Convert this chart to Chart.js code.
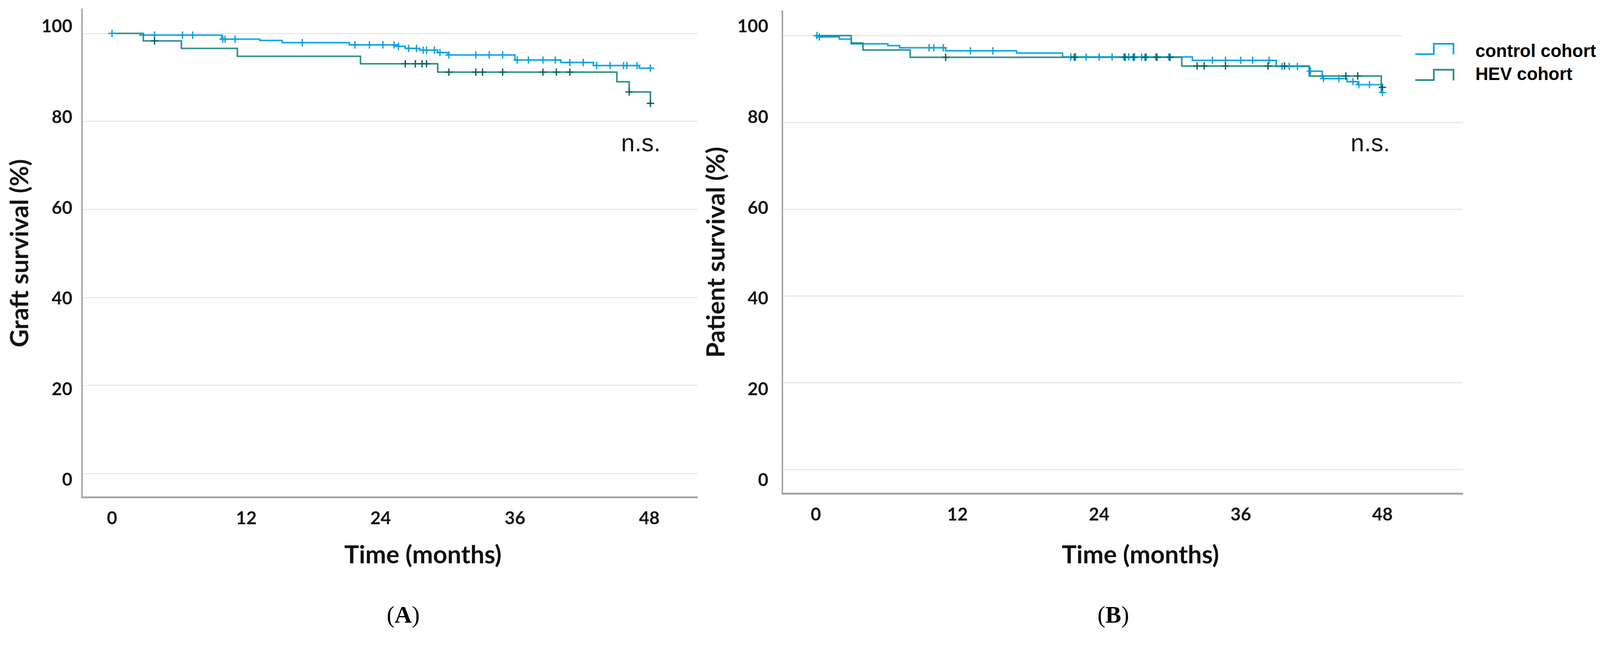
<!DOCTYPE html>
<html>
<head>
<meta charset="utf-8">
<script src="https://cdn.jsdelivr.net/npm/chart.js@4.4.1/dist/chart.umd.min.js"></script>
<style>
  html, body { margin: 0; padding: 0; background: #ffffff; overflow: hidden; }
  #stage { position: absolute; left: 0; top: 0; width: 4313px; height: 1706px; transform-origin: 0 0; background: #ffffff; }
  canvas { position: absolute; top: 0; }
  #chartA { left: 0; width: 1900px; height: 1706px; }
  #chartB { left: 1880px; width: 2100px; height: 1706px; }
  .xtitle { position: absolute; top: 1460px; font: bold 67px Lato, sans-serif; line-height: 1; white-space: nowrap; transform: translateX(-50%); color: #111; }
  .panel { position: absolute; top: 1627px; font: 64px "Liberation Serif", serif; line-height: 1; white-space: nowrap; transform: translateX(-50%); color: #000; }
  .legend { position: absolute; left: 3779px; top: 78px; width: 534px; height: 150px; background: #ffffff; }
  .legend .item { position: absolute; left: 0; width: 534px; height: 48px; }
  .legend svg { position: absolute; left: 34px; }
  .legend span { position: absolute; font: bold 48px "Liberation Sans", Arial, sans-serif; line-height: 1; white-space: nowrap; color: #000; }
</style>
</head>
<body>
<div id="stage">
  <canvas id="chartA" width="1900" height="1706"></canvas>
  <canvas id="chartB" width="2100" height="1706"></canvas>

  <div class="xtitle" style="left:1140px">Time (months)</div>
  <div class="xtitle" style="left:3074px">Time (months)</div>
  <div class="panel" style="left:1087px">(<b>A</b>)</div>
  <div class="panel" style="left:3001px">(<b>B</b>)</div>

  <div class="legend">
    <div class="item" style="top:36px">
      <svg width="110" height="38" style="top:0px"><polyline points="2,32 52,32 52,4 105,4 105,33" fill="none" stroke="#08a4e8" stroke-width="4.5"/></svg>
      <span style="left:198px;top:0px">control cohort</span>
    </div>
    <div class="item" style="top:98px">
      <svg width="110" height="38" style="top:8px"><polyline points="2,32 52,32 52,4 105,4 105,33" fill="none" stroke="#238c83" stroke-width="4.5"/></svg>
      <span style="left:198px;top:0px">HEV cohort</span>
    </div>
  </div>
</div>

<script>
// ---------- data ----------
const monthTicks = [0, 12, 24, 36, 48];
const percentTicks = [0, 20, 40, 60, 80, 100];
const cohortNames = ['control cohort', 'HEV cohort'];

// (A) Graft survival
const graftControlMonths = [0, 2.5, 9.8, 13.2, 15.2, 21.2, 25.5, 26.2, 27.5, 29.1, 30.0, 36.0, 40.1, 43.0, 47.1, 48.1];
const graftControlPct    = [100, 99.6, 98.7, 98.4, 97.9, 97.4, 97.05, 96.6, 96.2, 95.65, 95.1, 93.95, 93.4, 92.7, 92.1, 92.1];
const graftControlCensorMonths = [0, 3.8, 6.3, 7.2, 9.9, 10.1, 11.0, 17.0, 21.7, 23.0, 24.2, 25.2, 25.6, 26.5, 27.2, 27.8, 28.1, 28.8, 29.3, 30.1, 32.5, 33.7, 34.9, 36.2, 37.2, 38.5, 39.6, 40.9, 42.1, 43.3, 44.5, 45.7, 46.0, 46.9, 48.1];
const graftHevMonths = [0, 2.8, 6.2, 11.2, 22.2, 29.1, 45.1, 46.2, 48.1];
const graftHevPct    = [100, 98.3, 96.6, 94.8, 93.1, 91.2, 89.0, 86.7, 84.1];
const graftHevCensorMonths = [3.8, 26.2, 27.1, 27.7, 28.1, 30.1, 32.5, 33.1, 34.9, 38.5, 39.7, 40.9, 46.2, 48.1];

// (B) Patient survival
const patientControlMonths = [0, 0.3, 2.0, 3.0, 6.1, 7.1, 11.0, 17.0, 20.9, 31.9, 39.0, 41.8, 42.9, 45.0, 45.9, 47.9, 48.0];
const patientControlPct    = [100, 99.7, 99.2, 98.1, 97.7, 97.2, 96.5, 96.0, 95.1, 94.3, 92.9, 91.8, 90.1, 89.4, 88.7, 86.9, 86.9];
const patientControlCensorMonths = [0.1, 0.3, 9.6, 10.0, 10.8, 13.1, 15.0, 21.6, 22.0, 22.9, 24.0, 25.1, 26.1, 26.5, 27.0, 27.6, 28.0, 28.8, 29.9, 33.6, 34.7, 36.0, 37.0, 38.4, 39.5, 40.1, 40.8, 41.9, 43.0, 44.3, 45.5, 46.0, 46.9, 48.0];
const patientHevMonths = [0, 3.0, 4.0, 8.0, 31.0, 41.8, 47.9, 48.0];
const patientHevPct    = [100, 98.3, 96.7, 95.0, 93.0, 90.7, 88.1, 88.1];
const patientHevCensorMonths = [11.0, 21.9, 26.2, 26.9, 27.9, 28.9, 30.0, 32.3, 32.9, 34.7, 38.3, 39.7, 44.9, 45.9, 48.0];

// ---------- page scaling: fit the 4313x1706 design to the window ----------
(function fitStage() {
  const s = Math.min(window.innerWidth / 4313, window.innerHeight / 1706);
  document.getElementById('stage').style.transform = 'scale(' + s + ')';
})();

// ---------- helpers ----------
const BLUE = '#08a4e8', BLUE_MARK = '#0a9ee2', TEAL = '#238c83', TEAL_MARK = '#0c5f58';

function stepPoints(months, pct) {
  return months.map((m, i) => ({ x: m, y: pct[i] }));
}
// a censored case sits on the curve: take the curve's level at that month
function censorPoints(censorMonths, months, pct) {
  return censorMonths.map(t => {
    let v = pct[0];
    for (let i = 0; i < months.length; i++) { if (months[i] <= t + 1e-9) v = pct[i]; }
    return { x: t, y: v };
  });
}
function fixedTicks(list) {
  return scale => { scale.ticks = list.map(v => ({ value: v })); };
}

const nsPlugin = {
  id: 'nsLabel',
  afterDatasetsDraw(chart, args, opts) {
    const { ctx, scales } = chart;
    ctx.save();
    ctx.font = '66px "Liberation Sans", Arial, sans-serif';
    ctx.fillStyle = '#111';
    ctx.textAlign = 'left';
    ctx.textBaseline = 'alphabetic';
    ctx.fillText(opts.text, scales.x.getPixelForValue(opts.x), scales.y.getPixelForValue(opts.y));
    ctx.restore();
  }
};

const tickFont = { family: 'Lato', weight: 'bold', size: 48 };
const titleFont = { family: 'Lato', weight: 'bold', size: 67 };

function buildChart(id, d, p) {
  return new Chart(document.getElementById(id), {
    type: 'line',
    data: {
      datasets: [
        { label: cohortNames[0] + ' (censored)', data: censorPoints(d.cCens, d.cM, d.cP), showLine: false,
          pointStyle: 'cross', pointRadius: 10, pointBorderWidth: 3.5, pointBorderColor: BLUE_MARK, borderColor: BLUE_MARK, order: 1 },
        { label: cohortNames[1] + ' (censored)', data: censorPoints(d.hCens, d.hM, d.hP), showLine: false,
          pointStyle: 'cross', pointRadius: 10, pointBorderWidth: 3.5, pointBorderColor: TEAL_MARK, borderColor: TEAL_MARK, order: 0 },
        { label: cohortNames[1], data: stepPoints(d.hM, d.hP), stepped: true, borderColor: TEAL, borderWidth: 4,
          pointRadius: 0, fill: false, order: 2 },
        { label: cohortNames[0], data: stepPoints(d.cM, d.cP), stepped: true, borderColor: BLUE, borderWidth: 4,
          pointRadius: 0, fill: false, order: 3 }
      ]
    },
    options: {
      responsive: false,
      animation: false,
      devicePixelRatio: 1,
      layout: { padding: p.padding },
      plugins: {
        legend: { display: false },
        tooltip: { enabled: false },
        nsLabel: { text: 'n.s.', x: p.nsX, y: p.nsY }
      },
      scales: {
        x: {
          type: 'linear', min: p.xMin, max: p.xMax,
          afterBuildTicks: fixedTicks(monthTicks),
          afterFit: s => { s.height = 120; s.paddingLeft = 0; s.paddingRight = 0; },
          grid: { display: true, color: 'rgba(0,0,0,0)', drawTicks: false },
          border: { display: true, color: '#a3a3a3', width: 5 },
          ticks: { font: tickFont, color: '#111', padding: 29, maxRotation: 0, autoSkip: false }
        },
        y: {
          type: 'linear', position: 'left', weight: 0, min: p.yMin, max: p.yMax,
          afterBuildTicks: fixedTicks(percentTicks),
          afterFit: s => { s.width = 0; s.paddingTop = 0; s.paddingBottom = 0; },
          ticks: { display: false },
          grid: { color: '#e6e6e6', lineWidth: 3, drawTicks: false },
          border: { display: true, color: '#a3a3a3', width: 4 }
        },
        yl: {
          type: 'linear', position: 'left', weight: 1, min: p.lMin, max: p.lMax,
          afterBuildTicks: fixedTicks(percentTicks),
          afterFit: s => { s.width = p.labelWidth; s.paddingTop = 0; s.paddingBottom = 0; },
          grid: { display: false },
          border: { display: false },
          ticks: { font: tickFont, color: '#111', padding: p.tickPad },
          title: { display: true, text: p.yTitle, font: titleFont, color: '#111', padding: { top: p.titlePad, bottom: 0 } }
        }
      }
    },
    plugins: [nsPlugin]
  });
}

buildChart('chartA',
  { cM: graftControlMonths, cP: graftControlPct, cCens: graftControlCensorMonths,
    hM: graftHevMonths, hP: graftHevPct, hCens: graftHevCensorMonths },
  { padding: { left: 0, top: 25, right: 20, bottom: 245 },
    xMin: -2.68, xMax: 52.3, yMin: -5.39, yMax: 105.48, lMin: -3.76, lMax: 103.84,
    labelWidth: 221, tickPad: 18, titlePad: 14, yTitle: 'Graft survival (%)', nsX: 45.48, nsY: 73.2 });

buildChart('chartB',
  { cM: patientControlMonths, cP: patientControlPct, cCens: patientControlCensorMonths,
    hM: patientHevMonths, hP: patientHevPct, hCens: patientHevCensorMonths },
  { padding: { left: 0, top: 30, right: 37, bottom: 255 },
    xMin: -2.83, xMax: 54.8, yMin: -5.47, yMax: 105.64, lMin: -2.94, lMax: 103.43,
    labelWidth: 229, tickPad: 30, titlePad: 11, yTitle: 'Patient survival (%)', nsX: 45.3, nsY: 73.4 });
</script>
</body>
</html>
